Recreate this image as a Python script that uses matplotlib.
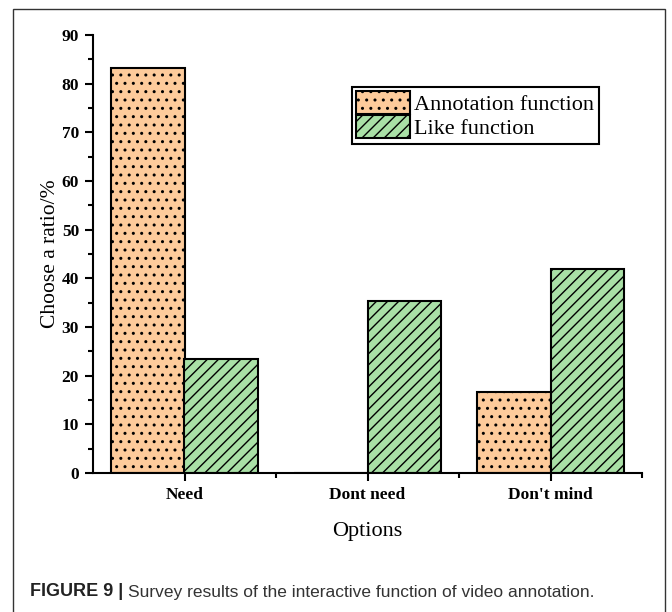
import numpy as np
import matplotlib
matplotlib.use('Agg')
import matplotlib.pyplot as plt
from matplotlib.patches import Rectangle

options = ['Need', 'Dont need', "Don't mind"]
annotation = [83.3, 0, 16.6]
like = [23.4, 35.4, 42.0]

orange = '#fdcb9b'
green = '#a9e0a6'

plt.rcParams['hatch.linewidth'] = 1.0
serif = ['Liberation Serif', 'DejaVu Serif']

fig = plt.figure(figsize=(6.72, 6.12), dpi=100)
# outer frame of the figure panel
fig.patches.append(Rectangle((13 / 672, -0.01), 652 / 672, 1 - 9 / 612 + 0.01,
                             transform=fig.transFigure, fill=False,
                             edgecolor='#333333', linewidth=1.0))

ax = fig.add_axes([93 / 672, 139 / 612, 549 / 672, 438 / 612])

x = np.arange(1, len(options) + 1)
w = 0.4
ax.bar(x - w / 2, annotation, w, color=orange, edgecolor='black', linewidth=1.5,
       hatch='..', label='Annotation function')
ax.bar(x + w / 2, like, w, color=green, edgecolor='black', linewidth=1.5,
       hatch='///', label='Like function')

ax.set_xlim(0.5, 3.5)
ax.set_ylim(0, 90)
ax.set_yticks(np.arange(0, 91, 10))
ax.set_yticks(np.arange(5, 90, 10), minor=True)
ax.set_xticks(x)
ax.set_xticks([1.5, 2.5, 3.5], minor=True)
ax.set_xticklabels(options, fontfamily=serif, fontsize=12.5, fontweight='bold')
for lab in ax.get_yticklabels():
    lab.set_fontfamily(serif)
    lab.set_fontsize(12.5)
    lab.set_fontweight('bold')

ax.tick_params(axis='both', which='major', direction='out', length=6, width=1.5, pad=4)
ax.tick_params(axis='both', which='minor', direction='out', length=3.5, width=1.5)
for s in ['top', 'right']:
    ax.spines[s].set_visible(False)
for s in ['left', 'bottom']:
    ax.spines[s].set_linewidth(1.5)

ax.set_xlabel('Options', fontfamily=serif, fontsize=16, labelpad=14)
ax.set_ylabel('Choose a ratio/%', fontfamily=serif, fontsize=15.5, labelpad=1)

leg = ax.legend(loc='upper left', bbox_to_anchor=(259 / 549, 1 - 52 / 438),
                prop={'family': serif, 'size': 16}, fancybox=False,
                edgecolor='black', framealpha=1, handlelength=2.4,
                handleheight=1.2, labelspacing=0, handletextpad=0.2,
                borderpad=0.2, borderaxespad=0)
leg.get_frame().set_linewidth(1.5)

# caption: bold label, then the rest placed right after it
cap_y = 1 - 592 / 612
t1 = fig.text(30 / 672, cap_y, 'FIGURE 9 | ', fontfamily='Liberation Sans',
              fontsize=13, fontweight='bold', color='#222222', va='center')
fig.canvas.draw()
bb = t1.get_window_extent()
fig.text(bb.x1 / fig.bbox.width, cap_y,
         'Survey results of the interactive function of video annotation.',
         fontfamily='Liberation Sans', fontsize=12.5, color='#333333', va='center')

fig.savefig('out.png', dpi=100)
